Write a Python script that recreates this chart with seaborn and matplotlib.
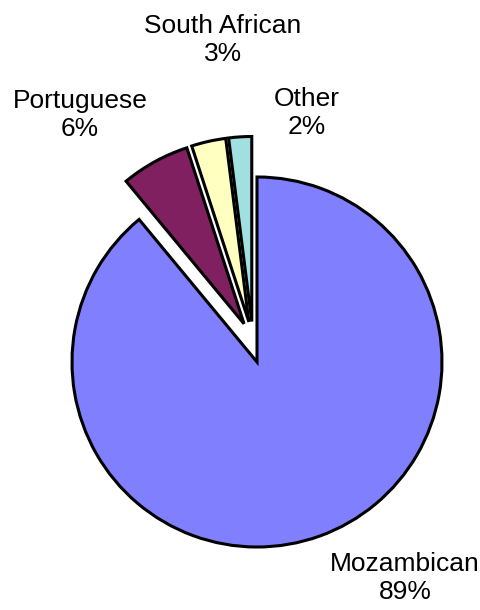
import matplotlib
matplotlib.use("Agg")
import matplotlib.pyplot as plt
import seaborn as sns

# datos del gráfico
categories = ["Mozambican", "Portuguese", "South African", "Other"]
shares = [89, 6, 3, 2]
colors = ["#8080FF", "#802060", "#FFFFC0", "#A0E0E0"]
explode = [0, 0.1, 0.1, 0.1]

sns.set_theme(style="white")
plt.rcParams["font.family"] = ["Liberation Sans", "DejaVu Sans"]

fig = plt.figure(figsize=(4.8, 6.1), dpi=100)
ax = fig.add_axes([0, 0, 1, 1])

wedges, _ = ax.pie(shares, colors=colors, explode=explode, startangle=90,
                   counterclock=False, radius=1,
                   wedgeprops=dict(edgecolor="black", linewidth=2.2))

# el grupo de porciones separadas se desplaza además hacia arriba
shift = (-0.022, 0.119)
for w, e in zip(wedges, explode):
    if e > 0:
        cx, cy = w.center
        w.set_center((cx + shift[0], cy + shift[1]))

# posiciones de las etiquetas (coordenadas de datos)
label_pos = [(0.80, -1.168), (-0.957, 1.335), (-0.184, 1.741), (0.27, 1.346)]
for name, val, (x, y) in zip(categories, shares, label_pos):
    ax.text(x, y, f"{name}\n{val}%", ha="center", va="center", fontsize=19,
            linespacing=1.25, color="black")

ax.set_xlim(-257 / 185, 223 / 185)
ax.set_ylim(-248 / 185, 362 / 185)
ax.set_aspect("equal")
ax.axis("off")

fig.savefig("out.png", dpi=100, facecolor="white")
